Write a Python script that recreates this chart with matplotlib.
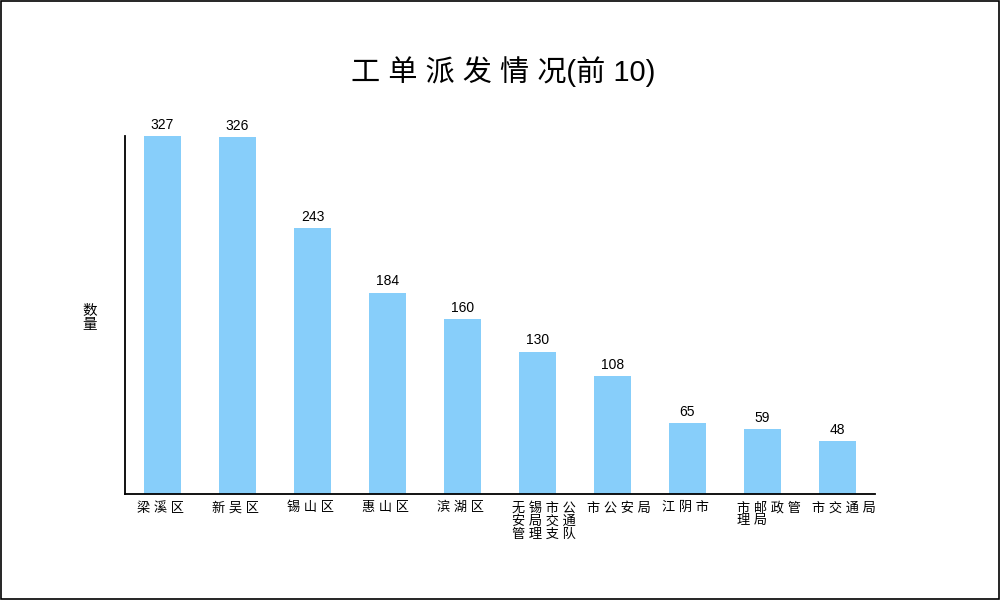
import matplotlib
matplotlib.use("Agg")
import matplotlib.pyplot as plt
from matplotlib.patches import Rectangle

plt.rcParams["font.family"] = ["Liberation Sans", "Noto Sans CJK SC", "DejaVu Sans"]

categories = ["梁溪区", "新吴区", "锡山区", "惠山区", "滨湖区",
              "无锡市公\n安局交通\n管理支队", "市公安局", "江阴市", "市邮政管\n理局", "市交通局"]
counts = [327, 326, 243, 184, 160, 130, 108, 65, 59, 48]
BAR = "#87cefa"


def spaced(s):
    # the reference draws CJK text with wide letter spacing
    return "\n".join(" ".join(line) for line in s.split("\n"))


fig = plt.figure(figsize=(10, 6), dpi=100)
fig.patches.append(Rectangle((0.0005, 0.001), 0.998, 0.997, transform=fig.transFigure,
                             fill=False, ec="black", lw=1.2))
ax = fig.add_axes([0.125, 0.1767, 0.75, 0.5967])
x = list(range(len(counts)))
ax.bar(x, counts, width=0.5, color=BAR)
for xi, v in zip(x, counts):
    ax.annotate(str(v), (xi, v), xytext=(0, 3), textcoords="offset points",
                ha="center", va="bottom", fontsize=10)
ax.set_xlim(-0.5, len(counts) - 0.5)
ax.set_ylim(0, max(counts))
ax.set_xticks([]); ax.set_yticks([])
for s in ("top", "right"):
    ax.spines[s].set_visible(False)
for s in ("left", "bottom"):
    ax.spines[s].set_linewidth(1.3)
for xi, lab in zip(x, categories):
    ax.text(xi - 0.34, -0.022, spaced(lab), transform=ax.get_xaxis_transform(),
            ha="left", va="top", fontsize=9.5, linespacing=1.05)
fig.text(0.09, 0.47, "数\n量", ha="center", va="center", fontsize=10.5, linespacing=1.0)
fig.text(0.503, 0.88, "工 单 派 发 情 况(前 10)", ha="center", va="center", fontsize=21)
fig.savefig("out.png")
